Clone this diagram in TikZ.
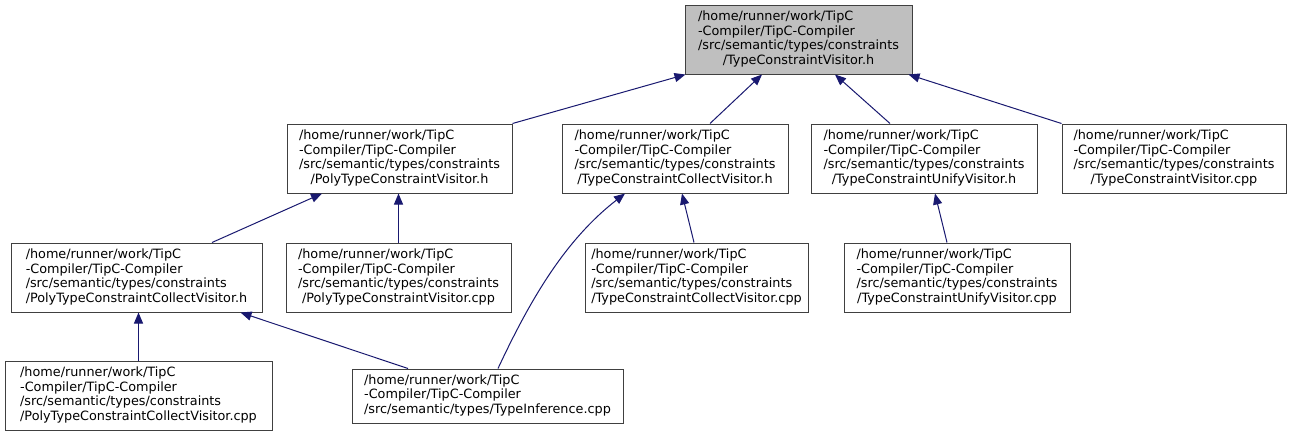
\documentclass[tikz,border=0pt]{standalone}
\usepackage{fontspec}
\setmainfont{DejaVu Sans}
\usetikzlibrary{arrows.meta,calc}
\definecolor{edgeblue}{RGB}{25,25,112}
\definecolor{topfill}{RGB}{191,191,191}
\definecolor{boxline}{RGB}{64,64,64}
\newcommand\hdr{/home/runner/work/TipC\\-Compiler/TipC-Compiler\\/src/semantic/types/constraints}
\newcommand\lbl[1]{\begin{tabular}{@{}l@{}}\hdr\\\multicolumn{1}{@{}c@{}}{#1}\end{tabular}}
\tikzset{
  box/.style={draw=boxline, line width=1pt, fill=white, inner sep=0pt,
    minimum height=69pt, font=\fontsize{12.8}{14.5}\selectfont},
  arr/.style={draw=edgeblue, line width=1pt, -{Triangle[length=11pt,width=9pt]}}
}
\begin{document}
\begin{tikzpicture}[x=1pt,y=-1pt]
\useasboundingbox[fill=white] (0,0) rectangle (1291,437);
\node[box, fill=topfill, minimum width=227pt] (top) at (798.5,39.5) {\lbl{/TypeConstraintVisitor.h}};
\node[box, minimum width=225pt] (polyh) at (399.5,158.5) {\lbl{/PolyTypeConstraintVisitor.h}};
\node[box, minimum width=226pt] (collh) at (675,158.5) {\lbl{/TypeConstraintCollectVisitor.h}};
\node[box, minimum width=226pt] (unifyh) at (924,158.5) {\lbl{/TypeConstraintUnifyVisitor.h}};
\node[box, minimum width=224pt] (viscpp) at (1174,158.5) {\lbl{/TypeConstraintVisitor.cpp}};
\node[box, minimum width=251pt] (polycollh) at (136.5,277.5) {\lbl{/PolyTypeConstraintCollectVisitor.h}};
\node[box, minimum width=225pt] (polycpp) at (398.5,277.5) {\lbl{/PolyTypeConstraintVisitor.cpp}};
\node[box, minimum width=223pt] (collcpp) at (696.5,277.5) {\lbl{/TypeConstraintCollectVisitor.cpp}};
\node[box, minimum width=226pt] (unifycpp) at (957,277.5) {\lbl{/TypeConstraintUnifyVisitor.cpp}};
\node[box, minimum width=267pt] (polycollcpp) at (138.5,395.5) {\lbl{/PolyTypeConstraintCollectVisitor.cpp}};
\node[box, minimum width=271pt, minimum height=54pt] (typeinf) at (487.5,396) {\begin{tabular}{@{}l@{}}/home/runner/work/TipC\\-Compiler/TipC-Compiler\\/src/semantic/types/TypeInference.cpp\end{tabular}};

\draw[arr] (polyh.north east) -- ([xshift=1pt]top.south west);
\draw[arr] ([xshift=35pt]collh.north) -- ([xshift=-36.5pt]top.south);
\draw[arr] ([xshift=-34pt]unifyh.north) -- ([xshift=36.5pt]top.south);
\draw[arr] (viscpp.north west) -- ([xshift=-4pt]top.south east);
\draw[arr] ([xshift=75.5pt]polycollh.north) -- ([xshift=-77.5pt]polyh.south);
\draw[arr] (polycpp.north) -- (polycpp.north |- polyh.south);
\draw[arr] ([xshift=-2.5pt]collcpp.north) -- ([xshift=7pt]collh.south);
\draw[arr] ([xshift=10.5pt]typeinf.north) .. controls (530,300) and (565,240) .. ([xshift=-50pt]collh.south);
\draw[arr] ([xshift=-79.5pt]typeinf.north) -- ([xshift=104pt]polycollh.south);
\draw[arr] (polycollcpp.north) -- (polycollcpp.north |- polycollh.south);
\draw[arr] ([xshift=-10pt]unifycpp.north) -- ([xshift=11pt]unifyh.south);
\end{tikzpicture}
\end{document}
